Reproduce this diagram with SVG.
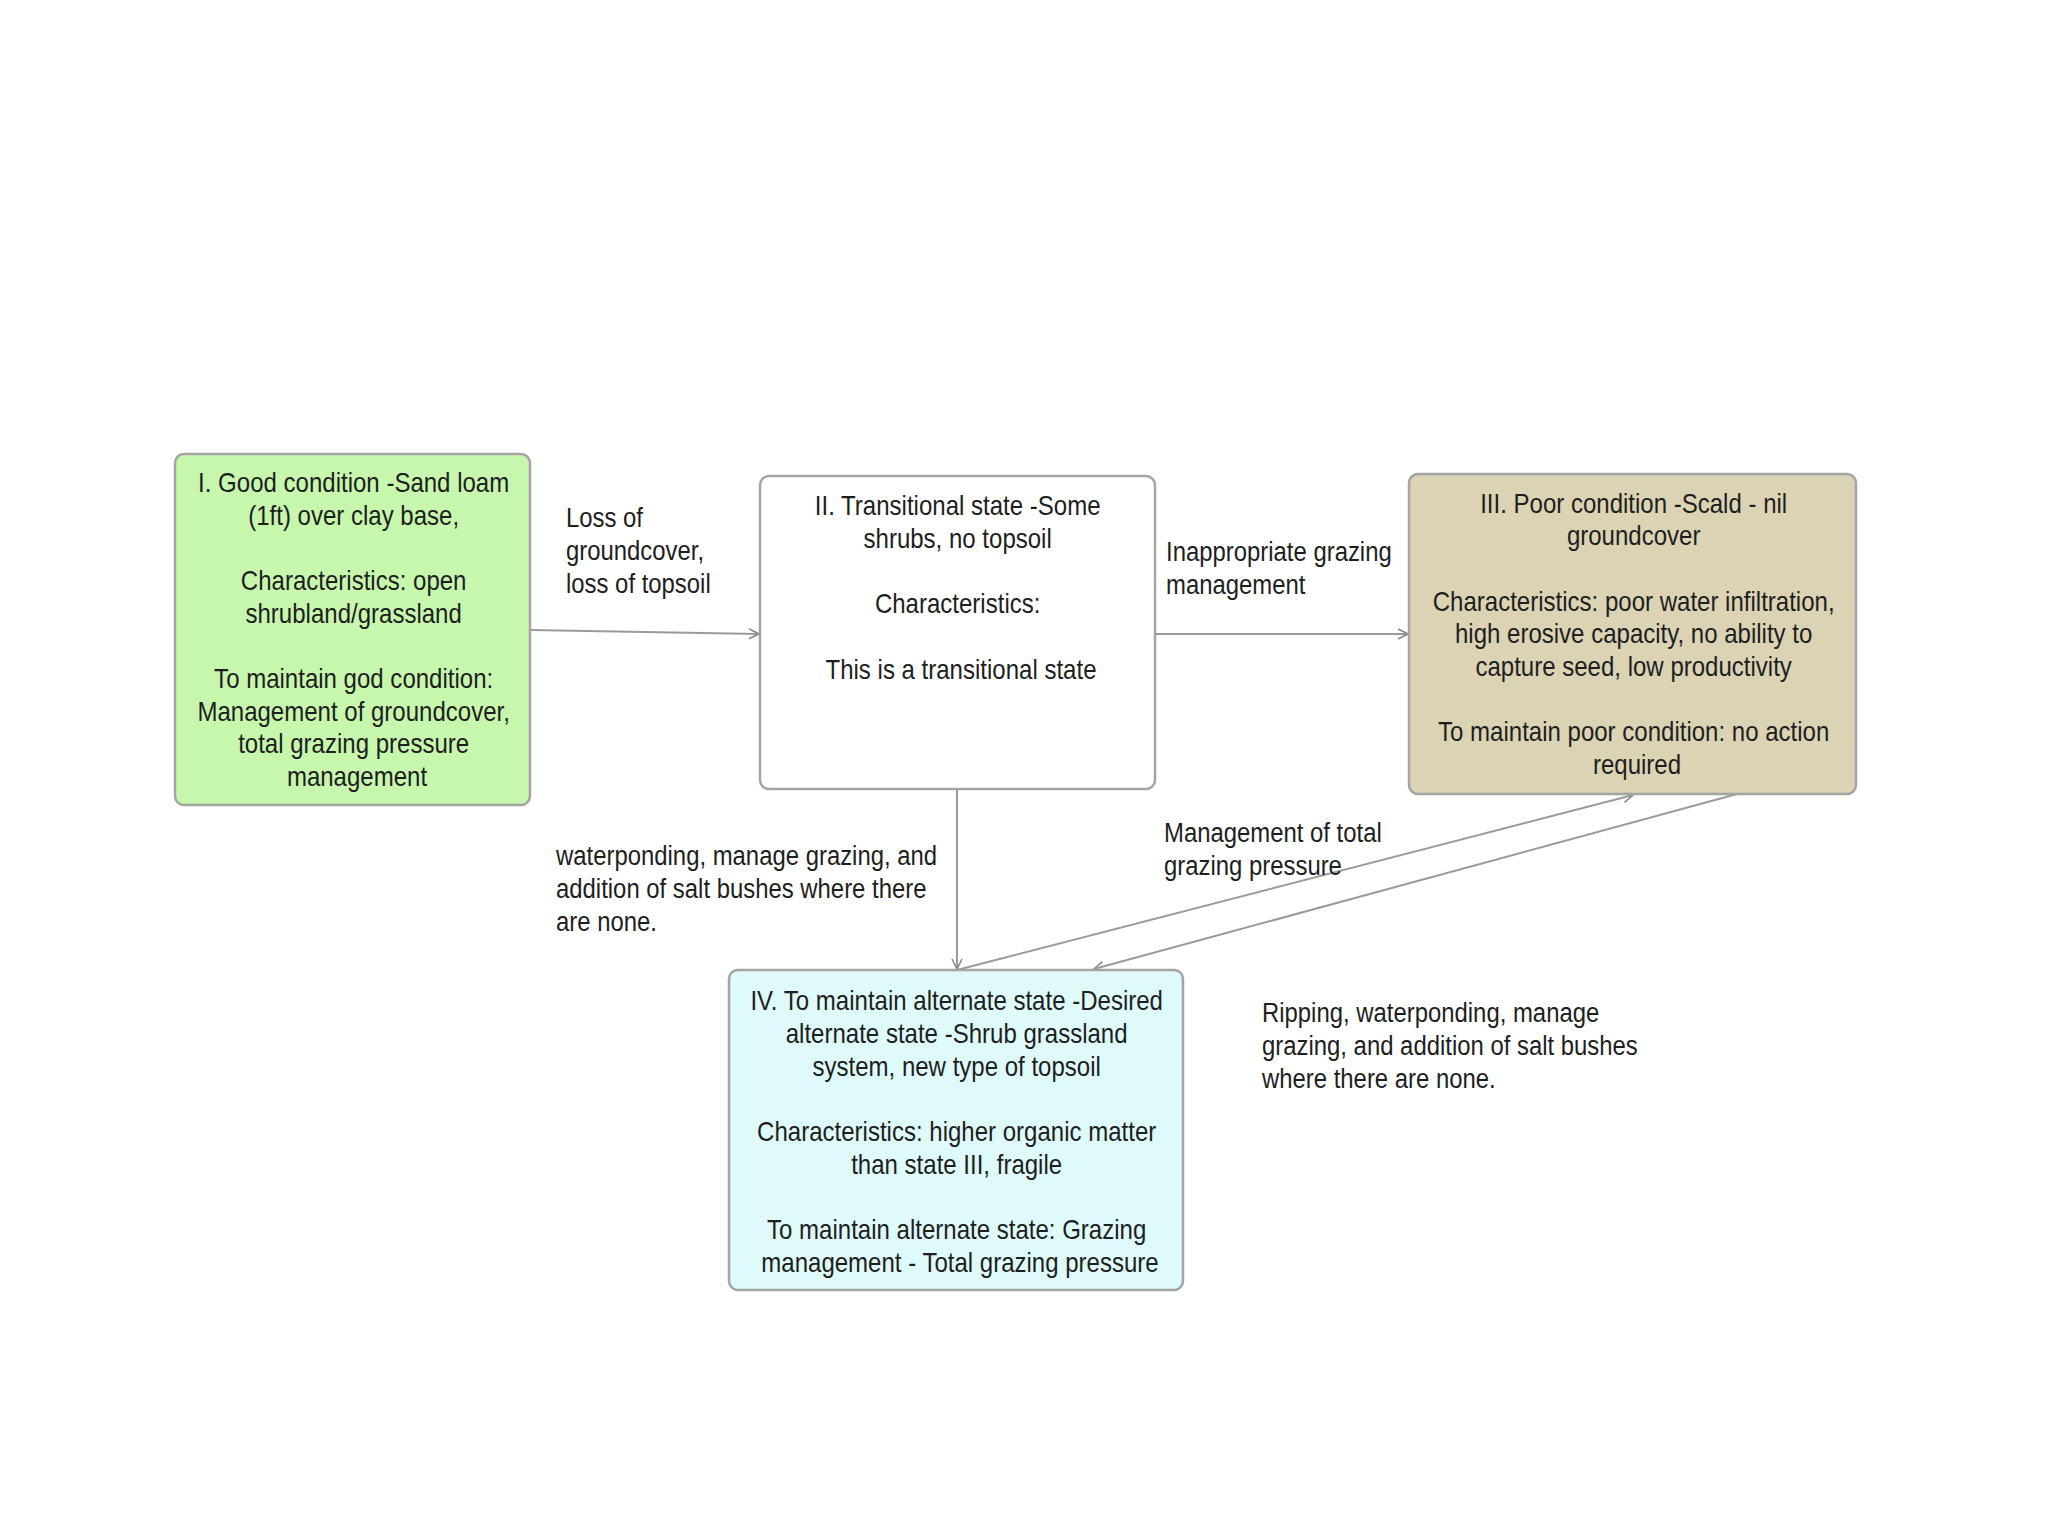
<svg xmlns="http://www.w3.org/2000/svg" width="2048" height="1536" viewBox="0 0 2048 1536">
<style>
.box{stroke:#a4a4a4;stroke-width:2.5}
.t{font-family:"Liberation Sans",Arial,sans-serif;font-size:27px;fill:#1e1e1e}
.c{text-anchor:middle}
.edge{stroke:#9a9a9a;stroke-width:2;fill:none}
</style>
<defs>
<marker id="arr" viewBox="0 0 12 12" refX="11" refY="6" markerWidth="12" markerHeight="12" markerUnits="userSpaceOnUse" orient="auto">
<path d="M1,1 L11,6 L1,11" fill="none" stroke="#8a8a8a" stroke-width="1.6"/>
</marker>
</defs>
<rect width="2048" height="1536" fill="#ffffff"/>
<g id="connectors">
<path class="edge" d="M530,630 L759,634" marker-end="url(#arr)"/>
<path class="edge" d="M1155,634 L1408,634" marker-end="url(#arr)"/>
<path class="edge" d="M957,789 L957,969" marker-end="url(#arr)"/>
<path class="edge" d="M957,970 L1633,795" marker-end="url(#arr)"/>
<path class="edge" d="M1737,794 L1094,969" marker-end="url(#arr)"/>
</g>
<g id="node1">
<rect class="box" x="175" y="454" width="355" height="351" rx="9" fill="#c6f7ad"/>
<text class="t c" transform="translate(357,0) scale(0.89,1)">
<tspan x="0" y="492">I. Good condition -Sand loam</tspan>
<tspan x="0" y="525">(1ft) over clay base,</tspan>
<tspan x="0" y="590">Characteristics: open</tspan>
<tspan x="0" y="623">shrubland/grassland</tspan>
<tspan x="0" y="688">To maintain god condition:</tspan>
<tspan x="0" y="721">Management of groundcover,</tspan>
<tspan x="0" y="753">total grazing pressure</tspan>
<tspan x="0" y="786">management</tspan>
</text>
</g>
<g id="node2">
<rect class="box" x="760" y="476" width="395" height="313" rx="9" fill="#ffffff"/>
<text class="t c" transform="translate(961,0) scale(0.89,1)">
<tspan x="0" y="515">II. Transitional state -Some</tspan>
<tspan x="0" y="548">shrubs, no topsoil</tspan>
<tspan x="0" y="613">Characteristics:</tspan>
<tspan x="0" y="679">This is a transitional state</tspan>
</text>
</g>
<g id="node3">
<rect class="box" x="1409" y="474" width="447" height="320" rx="9" fill="#dbd3b4"/>
<text class="t c" transform="translate(1637,0) scale(0.89,1)">
<tspan x="0" y="513">III. Poor condition -Scald - nil</tspan>
<tspan x="0" y="545">groundcover</tspan>
<tspan x="0" y="611">Characteristics: poor water infiltration,</tspan>
<tspan x="0" y="643">high erosive capacity, no ability to</tspan>
<tspan x="0" y="676">capture seed, low productivity</tspan>
<tspan x="0" y="741">To maintain poor condition: no action</tspan>
<tspan x="0" y="774">required</tspan>
</text>
</g>
<g id="node4">
<rect class="box" x="729" y="970" width="454" height="320" rx="9" fill="#dffafa"/>
<text class="t c" transform="translate(960,0) scale(0.89,1)">
<tspan x="0" y="1010">IV. To maintain alternate state -Desired</tspan>
<tspan x="0" y="1043">alternate state -Shrub grassland</tspan>
<tspan x="0" y="1076">system, new type of topsoil</tspan>
<tspan x="0" y="1141">Characteristics: higher organic matter</tspan>
<tspan x="0" y="1174">than state III, fragile</tspan>
<tspan x="0" y="1239">To maintain alternate state: Grazing</tspan>
<tspan x="0" y="1272">management - Total grazing pressure</tspan>
</text>
</g>
<g id="labels">
<text class="t" transform="translate(566,0) scale(0.885,1)">
<tspan x="0" y="527">Loss of</tspan>
<tspan x="0" y="560">groundcover,</tspan>
<tspan x="0" y="593">loss of topsoil</tspan>
</text>
<text class="t" transform="translate(1166,0) scale(0.885,1)">
<tspan x="0" y="561">Inappropriate grazing</tspan>
<tspan x="0" y="594">management</tspan>
</text>
<text class="t" transform="translate(556,0) scale(0.885,1)">
<tspan x="0" y="865">waterponding, manage grazing, and</tspan>
<tspan x="0" y="898">addition of salt bushes where there</tspan>
<tspan x="0" y="931">are none.</tspan>
</text>
<text class="t" transform="translate(1164,0) scale(0.885,1)">
<tspan x="0" y="842">Management of total</tspan>
<tspan x="0" y="875">grazing pressure</tspan>
</text>
<text class="t" transform="translate(1262,0) scale(0.885,1)">
<tspan x="0" y="1022">Ripping, waterponding, manage</tspan>
<tspan x="0" y="1055">grazing, and addition of salt bushes</tspan>
<tspan x="0" y="1088">where there are none.</tspan>
</text>
</g>
</svg>
